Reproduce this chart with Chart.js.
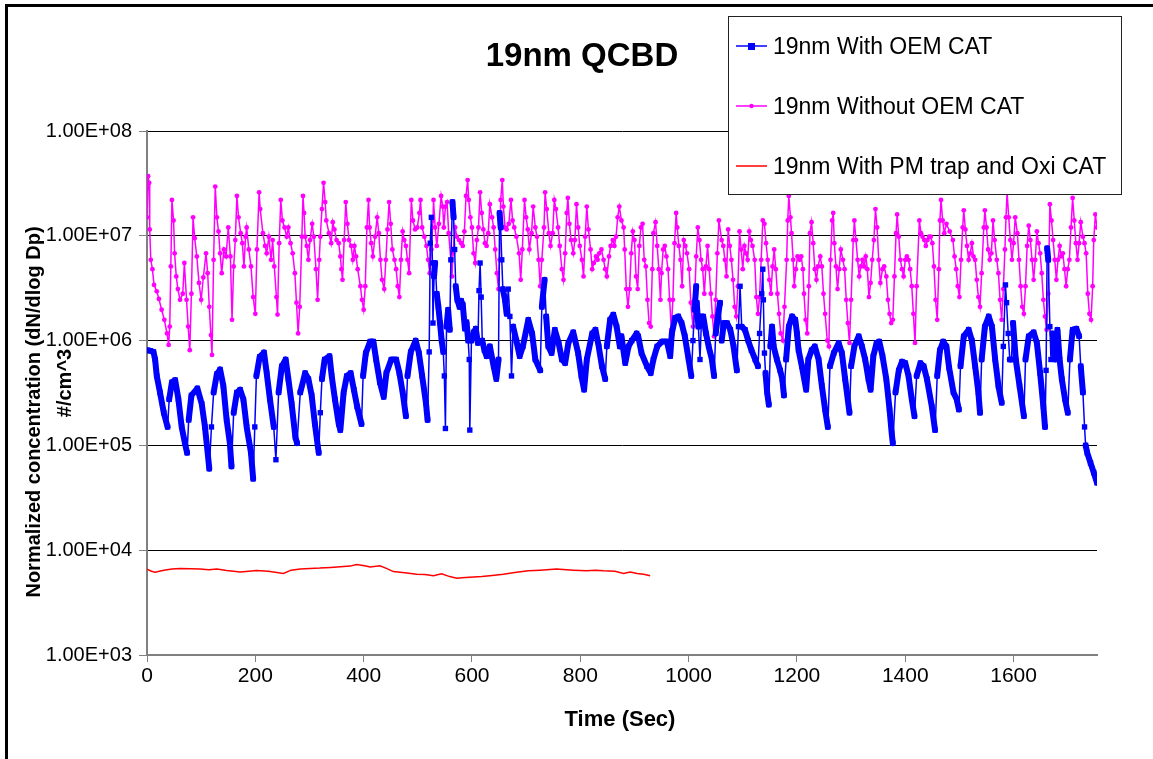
<!DOCTYPE html>
<html>
<head>
<meta charset="utf-8">
<title>19nm QCBD</title>
<script src="https://cdn.jsdelivr.net/npm/chart.js@4/dist/chart.umd.min.js"></script>
<style>
  html, body { margin: 0; padding: 0; background: #fff; overflow: hidden; }
  #chart { display: block; }
</style>
</head>
<body>
<canvas id="chart" width="1153" height="759"></canvas>
<script>
const FONT = "'Liberation Sans', Arial, sans-serif";

const chartTitle = '19nm QCBD';
const xTitle = 'Time (Sec)';
const yTitle = ['Normalized concentration (dN/dlog Dp)', '#/cm^3'];
const seriesNames = ['19nm With OEM CAT', '19nm Without OEM CAT', '19nm With PM trap and Oxi CAT'];

const xTickValues = [0, 200, 400, 600, 800, 1000, 1200, 1400, 1600];
const xTickLabels = ['0', '200', '400', '600', '800', '1000', '1200', '1400', '1600'];
const yTickValues = [1e3, 1e4, 1e5, 1e6, 1e7, 1e8];
const yTickLabels = ['1.00E+03', '1.00E+04', '1.00E+05', '1.00E+06', '1.00E+07', '1.00E+08'];

// 19nm with OEM catalyst
const blueTime = [
  0, 6, 12, 15, 18, 24, 31, 38, 41, 46,
  52, 58, 64, 70, 74, 77, 82, 93, 101, 107,
  112, 115, 119, 123, 129, 135, 141, 147, 153, 156,
  160, 166, 172, 178, 184, 192, 196, 199, 202, 208,
  216, 221, 227, 234, 238, 243, 249, 256, 261, 267,
  274, 277, 283, 292, 298, 304, 310, 317, 320, 323,
  328, 337, 341, 347, 354, 357, 363, 369, 376, 382,
  388, 396, 399, 404, 412, 418, 423, 430, 437, 442,
  451, 460, 466, 472, 478, 481, 487, 496, 502, 508,
  515, 518, 521, 523, 525, 527, 528, 530, 532, 535,
  538, 541, 544, 547, 549, 551, 553, 556, 559, 561,
  564, 566, 568, 570, 573, 577, 580, 583, 587, 590,
  593, 595, 596, 599, 603, 607, 611, 613, 615, 617,
  619, 623, 627, 633, 640, 645, 649, 651, 653, 655,
  657, 661, 664, 667, 670, 673, 676, 682, 688, 694,
  704, 711, 717, 726, 729, 734, 737, 741, 747, 753,
  760, 766, 772, 778, 787, 796, 802, 807, 812, 822,
  828, 834, 840, 846, 849, 855, 861, 867, 873, 876,
  883, 889, 895, 904, 907, 913, 923, 930, 935, 942,
  951, 960, 966, 969, 975, 981, 987, 993, 1000, 1005,
  1008, 1011, 1014, 1015, 1018, 1021, 1024, 1027, 1032, 1037,
  1043, 1047, 1050, 1054, 1058, 1061, 1065, 1071, 1077, 1083,
  1089, 1092, 1095, 1098, 1104, 1110, 1116, 1123, 1128, 1131,
  1135, 1137, 1138, 1140, 1142, 1145, 1148, 1151, 1154, 1157,
  1163, 1169, 1173, 1176, 1180, 1185, 1191, 1197, 1200, 1203,
  1209, 1217, 1221, 1227, 1233, 1240, 1246, 1252, 1257, 1261,
  1268, 1277, 1283, 1289, 1297, 1300, 1306, 1314, 1320, 1326,
  1332, 1336, 1341, 1347, 1352, 1358, 1365, 1371, 1375, 1377,
  1382, 1388, 1394, 1400, 1406, 1412, 1417, 1421, 1428, 1434,
  1440, 1449, 1455, 1459, 1464, 1470, 1476, 1481, 1489, 1495,
  1499, 1502, 1508, 1517, 1523, 1529, 1535, 1538, 1541, 1547,
  1554, 1560, 1566, 1572, 1578, 1581, 1585, 1587, 1590, 1593,
  1596, 1599, 1604, 1611, 1619, 1622, 1628, 1637, 1643, 1649,
  1655, 1658, 1660, 1662, 1664, 1667, 1669, 1672, 1677, 1681,
  1685, 1689, 1695, 1700, 1704, 1709, 1716, 1721, 1724, 1728,
  1731, 1733, 1736, 1742, 1748, 1754
];
const blueConc = [
  8.1e5, 8.0e5, 7.8e5, 6.6e5, 4.6e5, 3.2e5, 2.05e5, 1.5e5, 2.75e5, 4.0e5,
  4.2e5, 2.75e5, 1.5e5, 1.05e5, 8.5e4, 1.75e5, 3.0e5, 3.5e5, 2.5e5, 1.5e5,
  8.5e4, 6.0e4, 1.5e5, 3.2e5, 4.8e5, 5.3e5, 3.7e5, 1.75e5, 1.05e5, 6.3e4,
  2.05e5, 3.2e5, 3.4e5, 2.75e5, 1.5e5, 8.5e4, 4.8e4, 1.5e5, 4.6e5, 7.0e5,
  7.7e5, 4.9e5, 2.75e5, 1.5e5, 7.3e4, 3.2e5, 5.7e5, 6.6e5, 4.3e5, 2.5e5,
  1.2e5, 1.05e5, 3.2e5, 4.9e5, 4.3e5, 3.0e5, 1.6e5, 8.5e4, 2.05e5, 4.3e5,
  6.6e5, 7.1e5, 4.6e5, 2.75e5, 1.6e5, 1.4e5, 3.2e5, 4.6e5, 4.9e5, 3.4e5,
  2.35e5, 1.6e5, 4.6e5, 7.6e5, 9.8e5, 9.8e5, 6.6e5, 4.0e5, 2.9e5, 4.9e5,
  6.6e5, 6.6e5, 4.9e5, 3.2e5, 1.9e5, 4.6e5, 7.8e5, 1.0e6, 7.6e5, 4.6e5,
  2.55e5, 1.75e5, 7.8e5, 8.5e6, 1.5e7, 5.5e6, 1.47e6, 4.1e6, 5.5e6, 2.8e6,
  2.1e6, 1.47e6, 1.0e6, 7.8e5, 4.6e5, 1.45e5, 1.36e6, 1.97e6, 1.27e6, 5.9e6,
  2.1e7, 1.5e7, 7.4e6, 3.3e6, 2.45e6, 2.1e6, 2.4e6, 2.2e6, 1.3e6, 1.5e6,
  1.0e6, 6.6e5, 1.4e5, 1.0e6, 1.2e6, 1.3e6, 9.5e5, 3.0e6, 5.5e6, 2.6e6,
  1.0e6, 8.1e5, 7.1e5, 8.8e5, 5.7e5, 4.3e5, 6.6e5, 1.65e7, 1.2e7, 5.9e6,
  3.1e6, 2.45e6, 1.8e6, 3.1e6, 1.7e6, 4.6e5, 1.36e6, 1.0e6, 7.1e5, 8.8e5,
  1.58e6, 1.17e6, 6.6e5, 5.2e5, 2.1e6, 3.8e6, 1.7e6, 8.8e5, 7.6e5, 1.27e6,
  9.5e5, 6.6e5, 6.1e5, 9.5e5, 1.2e6, 7.6e5, 4.6e5, 3.4e5, 6.6e5, 1.17e6,
  1.27e6, 8.8e5, 5.7e5, 4.3e5, 8.8e5, 1.58e6, 1.77e6, 1.36e6, 8.8e5, 1.1e6,
  6.1e5, 8.8e5, 1.0e6, 1.17e6, 1.1e6, 7.6e5, 5.7e5, 4.9e5, 6.6e5, 8.8e5,
  9.8e5, 9.8e5, 7.1e5, 1.17e6, 1.65e6, 1.7e6, 1.47e6, 1.1e6, 6.6e5, 4.6e5,
  1.0e6, 1.97e6, 3.3e6, 2.3e6, 1.36e6, 6.6e5, 1.7e6, 1.7e6, 1.17e6, 8.8e5,
  6.6e5, 4.6e5, 1.17e6, 1.7e6, 2.3e6, 1.0e6, 1.47e6, 1.47e6, 1.27e6, 8.8e5,
  5.2e5, 1.36e6, 3.3e6, 1.36e6, 1.27e6, 1.0e6, 8.1e5, 6.6e5, 5.7e5, 1.17e6,
  2.8e6, 4.8e6, 2.45e6, 7.6e5, 4.9e5, 3.2e5, 2.45e5, 8.8e5, 1.36e6, 8.8e5,
  6.6e5, 5.2e5, 4.3e5, 3.0e5, 6.6e5, 1.36e6, 1.7e6, 1.58e6, 1.17e6, 8.1e5,
  5.7e5, 3.4e5, 6.6e5, 8.1e5, 8.8e5, 6.6e5, 3.7e5, 2.2e5, 1.5e5, 5.7e5,
  7.6e5, 9.5e5, 7.6e5, 4.3e5, 2.05e5, 5.7e5, 8.8e5, 1.1e6, 8.8e5, 6.6e5,
  4.3e5, 3.4e5, 7.1e5, 9.5e5, 9.8e5, 7.1e5, 4.3e5, 2.2e5, 1.3e5, 1.05e5,
  3.2e5, 5.2e5, 6.3e5, 6.1e5, 4.6e5, 2.75e5, 1.9e5, 4.6e5, 6.1e5, 5.7e5,
  4.3e5, 2.35e5, 1.4e5, 4.6e5, 8.1e5, 9.8e5, 8.8e5, 5.5e5, 3.2e5, 2.75e5,
  2.2e5, 5.7e5, 1.1e6, 1.27e6, 1.0e6, 5.7e5, 3.2e5, 2.05e5, 6.6e5, 1.36e6,
  1.7e6, 1.36e6, 6.6e5, 3.7e5, 2.55e5, 8.8e5, 3.4e6, 2.3e6, 1.17e6, 6.6e5,
  6.6e5, 1.47e6, 6.6e5, 3.7e5, 1.9e5, 6.6e5, 1.1e6, 1.2e6, 9.5e5, 4.9e5,
  2.35e5, 1.5e5, 5.2e5, 7.6e6, 5.9e6, 1.36e6, 6.6e5, 1.17e6, 6.6e5, 1.27e6,
  6.6e5, 4.3e5, 2.75e5, 2.05e5, 6.6e5, 1.27e6, 1.3e6, 1.1e6, 5.7e5, 3.2e5,
  1.5e5, 1.0e5, 8.5e4, 6.8e4, 5.5e4, 4.4e4
];

// 19nm without OEM catalyst
const magentaTime = [
  0, 2, 4, 5, 7, 10, 13, 18, 22, 27,
  32, 37, 40, 42, 44, 46, 49, 51, 54, 57,
  61, 66, 69, 73, 76, 79, 82, 85, 88, 92,
  96, 100, 104, 109, 112, 115, 118, 120, 123, 126,
  129, 132, 135, 138, 142, 146, 150, 154, 157, 160,
  163, 166, 169, 173, 176, 179, 182, 184, 188, 192,
  196, 200, 203, 207, 209, 214, 218, 221, 225, 229,
  232, 235, 239, 241, 244, 247, 250, 254, 258, 261,
  265, 269, 273, 276, 279, 282, 286, 288, 290, 292,
  295, 298, 301, 305, 308, 312, 315, 318, 320, 323,
  326, 329, 331, 336, 340, 343, 346, 350, 354, 357,
  359, 361, 364, 367, 370, 373, 377, 380, 383, 386,
  389, 394, 397, 400, 403, 406, 409, 411, 414, 417,
  421, 425, 428, 431, 434, 438, 441, 444, 447, 450,
  453, 457, 460, 463, 466, 469, 472, 475, 478, 481,
  484, 488, 491, 495, 499, 503, 505, 508, 512, 516,
  519, 522, 525, 528, 529, 532, 535, 539, 543, 546,
  548, 551, 554, 557, 561, 563, 565, 569, 572, 576,
  580, 583, 586, 589, 592, 594, 597, 600, 603, 606,
  609, 612, 615, 618, 621, 624, 627, 630, 633, 637,
  640, 643, 646, 649, 651, 653, 656, 658, 661, 664,
  668, 672, 675, 678, 682, 687, 690, 693, 697, 700,
  703, 706, 710, 713, 717, 720, 723, 726, 729, 733,
  735, 738, 742, 745, 749, 752, 755, 759, 762, 766,
  769, 772, 775, 777, 780, 783, 787, 790, 793, 796,
  799, 803, 806, 809, 812, 815, 819, 822, 825, 829,
  832, 835, 839, 843, 846, 849, 853, 856, 860, 863,
  866, 869, 872, 876, 880, 882, 885, 888, 891, 894,
  897, 900, 903, 906, 909, 912, 915, 918, 921, 924,
  927, 930, 933, 935, 939, 942, 945, 948, 950, 953,
  956, 959, 962, 965, 968, 971, 974, 977, 979, 982,
  985, 988, 991, 994, 997, 1001, 1004, 1008, 1011, 1014,
  1017, 1020, 1023, 1026, 1029, 1032, 1035, 1038, 1041, 1044,
  1047, 1050, 1053, 1056, 1061, 1064, 1067, 1070, 1073, 1076,
  1079, 1082, 1085, 1088, 1091, 1094, 1097, 1100, 1103, 1106,
  1109, 1112, 1115, 1118, 1122, 1125, 1128, 1131, 1134, 1137,
  1140, 1143, 1146, 1149, 1152, 1155, 1158, 1161, 1164, 1167,
  1170, 1174, 1177, 1181, 1183, 1185, 1188, 1190, 1193, 1195,
  1198, 1201, 1205, 1208, 1211, 1213, 1216, 1219, 1222, 1224,
  1227, 1230, 1233, 1236, 1239, 1243, 1246, 1249, 1252, 1256,
  1259, 1262, 1265, 1267, 1269, 1272, 1275, 1278, 1281, 1285,
  1288, 1291, 1294, 1297, 1300, 1304, 1306, 1309, 1312, 1315,
  1318, 1321, 1324, 1327, 1330, 1333, 1336, 1339, 1342, 1345,
  1348, 1351, 1354, 1358, 1361, 1365, 1368, 1371, 1374, 1377,
  1380, 1383, 1385, 1388, 1391, 1394, 1397, 1400, 1403, 1406,
  1409, 1412, 1415, 1418, 1421, 1426, 1429, 1432, 1435, 1438,
  1441, 1444, 1447, 1450, 1453, 1456, 1459, 1462, 1464, 1466,
  1469, 1472, 1476, 1482, 1488, 1491, 1494, 1497, 1500, 1503,
  1506, 1508, 1511, 1514, 1517, 1520, 1523, 1526, 1529, 1532,
  1535, 1538, 1541, 1545, 1547, 1550, 1553, 1556, 1559, 1562,
  1565, 1569, 1572, 1575, 1578, 1581, 1584, 1586, 1588, 1591,
  1594, 1597, 1600, 1603, 1607, 1610, 1613, 1616, 1619, 1622,
  1625, 1628, 1631, 1634, 1637, 1640, 1643, 1646, 1649, 1652,
  1655, 1658, 1661, 1664, 1667, 1670, 1673, 1676, 1679, 1682,
  1685, 1688, 1691, 1694, 1697, 1700, 1703, 1706, 1709, 1712,
  1715, 1718, 1721, 1724, 1728, 1731, 1734, 1737, 1740, 1743,
  1746, 1748, 1751, 1754
];
const magentaConc = [
  1.5e7, 3.7e7, 3.2e7, 1.15e7, 5.9e6, 4.8e6, 3.4e6, 2.95e6, 2.5e6, 1.97e6,
  1.58e6, 1.17e6, 9.1e5, 1.36e6, 5.1e6, 2.2e7, 1.4e7, 6.8e6, 4.1e6, 3.1e6,
  2.45e6, 2.8e6, 5.5e6, 2.45e6, 1.36e6, 8.1e5, 2.8e6, 1.5e7, 9.5e6, 6.35e6,
  3.55e6, 2.45e6, 4.0e6, 6.8e6, 4.4e6, 2.1e6, 1.13e6, 7.3e5, 5.9e6, 2.95e7,
  1.5e7, 1.1e7, 6.8e6, 4.4e6, 7.4e6, 6.35e6, 1.2e7, 6.35e6, 1.58e6, 5.1e6,
  9.1e6, 2.4e7, 1.5e7, 1.06e7, 8.5e6, 5.1e6, 9.8e6, 1.2e7, 7.4e6, 5.1e6,
  2.6e6, 1.8e6, 7.4e6, 2.6e7, 1.8e7, 1.06e7, 8e6, 6.8e6, 9.8e6, 5.9e6,
  9.1e6, 5.1e6, 2.6e6, 1.77e6, 8.5e6, 2.2e7, 1.4e7, 1.2e7, 9.8e6, 1.2e7,
  8.5e6, 6.8e6, 4.4e6, 2.3e6, 1.17e6, 2.1e6, 9.8e6, 2.4e7, 1.65e7, 9.8e6,
  8e6, 5.9e6, 9.1e6, 1.3e7, 9.8e6, 4.8e6, 2.45e6, 5.9e6, 9.8e6, 1.8e7,
  3.2e7, 2.1e7, 1.4e7, 1.06e7, 8.5e6, 1.35e7, 1.15e7, 9.1e6, 8.5e6, 6.35e6,
  4.8e6, 3.8e6, 9.1e6, 2.1e7, 1.3e7, 9.1e6, 8e6, 5.9e6, 8e6, 6.35e6,
  4.8e6, 3.3e6, 2.45e6, 1.97e6, 3.3e6, 1.2e7, 2.2e7, 1.2e7, 8.5e6, 6.35e6,
  9.8e6, 1.5e7, 1.06e7, 5.9e6, 3.8e6, 3.1e6, 5.9e6, 1.15e7, 2.1e7, 1.3e7,
  7.4e6, 5.9e6, 4.8e6, 3.3e6, 2.6e6, 5.9e6, 1.1e7, 9.1e6, 8e6, 5.9e6,
  4.4e6, 2.2e7, 1.4e7, 1.15e7, 1.2e7, 1.65e7, 2.2e7, 1.2e7, 9.8e6, 8e6,
  5.9e6, 4.4e6, 7.4e6, 1.4e7, 2.2e7, 1.2e7, 8e6, 1.3e7, 2.4e7, 1.9e7,
  1.2e7, 1.9e7, 2.1e7, 1.06e7, 5.9e6, 4.1e6, 6.8e6, 1.2e7, 9.8e6, 9.1e6,
  8.5e6, 8e6, 1.1e7, 2.4e7, 3.4e7, 2.2e7, 1.5e7, 1.2e7, 6.8e6, 5.5e6,
  9.1e6, 1.2e7, 2.6e7, 1.65e7, 1.15e7, 8.5e6, 8e6, 1.06e7, 2e7, 1.5e7,
  1.2e7, 7.4e6, 4.4e6, 3.1e6, 5.9e6, 2.2e7, 3.4e7, 1.9e7, 1.2e7, 1.15e7,
  1.3e7, 2.2e7, 1.4e7, 1.2e7, 9.8e6, 6.8e6, 3.8e6, 7.4e6, 2.2e7, 1.5e7,
  1.15e7, 7.4e6, 1.06e7, 1.9e7, 1.2e7, 9.8e6, 5.9e6, 3.3e6, 5.9e6, 1.2e7,
  2.6e7, 1.8e7, 1.06e7, 8e6, 1.06e7, 2.2e7, 1.8e7, 1.2e7, 8e6, 4.8e6,
  3.8e6, 6.8e6, 1.65e7, 2.3e7, 1.3e7, 9.1e6, 6.8e6, 9.1e6, 2e7, 1.2e7,
  8e6, 5.9e6, 4.1e6, 9.8e6, 1.9e7, 1.15e7, 7.4e6, 4.8e6, 5.5e6, 6.35e6,
  5.9e6, 6.8e6, 7.4e6, 5.9e6, 4.8e6, 4.1e6, 6.35e6, 8e6, 9.1e6, 8e6,
  9.8e6, 1.5e7, 1.9e7, 1.4e7, 1.2e7, 7.4e6, 3.1e6, 2.1e6, 3.1e6, 6.8e6,
  1.1e7, 9.1e6, 4.1e6, 3.1e6, 8e6, 1.2e7, 1.3e7, 5.9e6, 5.1e6, 2.45e6,
  1.47e6, 1.36e6, 4.8e6, 1.06e7, 1.35e7, 8e6, 4.8e6, 2.45e6, 4.4e6, 7.4e6,
  8e6, 6.35e6, 4.8e6, 2.45e6, 1.27e6, 2.45e6, 8.5e6, 1.65e7, 1.2e7, 8e6,
  5.9e6, 3.3e6, 9.1e6, 8e6, 6.8e6, 4.8e6, 2.3e6, 1.36e6, 2.45e6, 6.35e6,
  1.2e7, 9.1e6, 5.9e6, 4.8e6, 2.8e6, 5.1e6, 8e6, 4.8e6, 2.8e6, 1.7e6,
  1.1e6, 2.45e6, 6.8e6, 1.4e7, 9.1e6, 8e6, 5.9e6, 4.1e6, 1.15e7, 8e6,
  5.9e6, 3.8e6, 2.1e6, 1.7e6, 3.3e6, 1.1e7, 7.4e6, 4.8e6, 8e6, 6.8e6,
  5.9e6, 1.1e7, 9.1e6, 8e6, 5.9e6, 2.6e6, 1.8e6, 2.6e6, 5.9e6, 1.4e7,
  1.3e7, 8.5e6, 5.9e6, 3.8e6, 2.8e6, 5.1e6, 7.4e6, 4.8e6, 2.8e6, 1.8e6,
  1.17e6, 1.0e6, 2.1e6, 5.9e6, 1.4e7, 2.4e7, 1.5e7, 1.06e7, 5.9e6, 3.3e6,
  4.8e6, 6.35e6, 5.9e6, 6.35e6, 4.8e6, 2.8e6, 1.58e6, 1.17e6, 3.3e6, 1.06e7,
  1.35e7, 8.5e6, 4.8e6, 3.8e6, 5.1e6, 6.35e6, 5.1e6, 2.8e6, 1.8e6, 1.0e6,
  8.8e5, 5.9e6, 1.4e7, 1.65e7, 8.5e6, 5.1e6, 3.1e6, 4.8e6, 7.4e6, 5.9e6,
  4.8e6, 2.45e6, 1.47e6, 9.5e5, 2.45e6, 9.1e6, 1.4e7, 9.1e6, 5.9e6, 4.1e6,
  5.1e6, 5.9e6, 5.1e6, 6.35e6, 4.8e6, 2.6e6, 3.55e6, 5.9e6, 9.1e6, 1.8e7,
  1.2e7, 5.9e6, 3.55e6, 4.8e6, 5.1e6, 4.1e6, 2.45e6, 1.8e6, 1.47e6, 1.58e6,
  4.1e6, 1.06e7, 1.6e7, 9.8e6, 5.9e6, 4.8e6, 4.1e6, 5.9e6, 6.35e6, 5.9e6,
  4.8e6, 3.3e6, 1.8e6, 9.5e5, 3.3e6, 1.4e7, 1.06e7, 9.8e6, 9.1e6, 8e6,
  9.1e6, 9.8e6, 9.8e6, 8.5e6, 5.1e6, 2.45e6, 1.58e6, 4.8e6, 1.4e7, 2.2e7,
  1.4e7, 1.06e7, 1.3e7, 1.1e7, 9.1e6, 6.35e6, 4.8e6, 3.3e6, 2.6e6, 5.9e6,
  1.2e7, 1.75e7, 1.15e7, 8e6, 5.9e6, 6.8e6, 8.5e6, 6.35e6, 5.9e6, 3.8e6,
  2.6e6, 2.1e6, 4.4e6, 1.2e7, 1.75e7, 1.2e7, 7.4e6, 5.9e6, 6.8e6, 1.4e7,
  9.1e6, 5.9e6, 4.4e6, 2.45e6, 1.58e6, 3.1e6, 7.4e6, 1.5e7, 2.6e7, 1.5e7,
  9.1e6, 5.9e6, 8.5e6, 1.5e7, 1.06e7, 5.9e6, 3.3e6, 2.1e6, 1.8e6, 3.3e6,
  8e6, 1.25e7, 9.1e6, 5.9e6, 3.8e6, 5.9e6, 1.1e7, 8.5e6, 6.8e6, 4.4e6,
  2.45e6, 1.7e6, 1.27e6, 2.8e6, 2e7, 1.4e7, 9.1e6, 5.9e6, 3.8e6, 5.9e6,
  8e6, 6.35e6, 6.8e6, 4.8e6, 3.3e6, 4.8e6, 5.9e6, 1.2e7, 2.3e7, 1.4e7,
  8.5e6, 5.9e6, 8.5e6, 1.35e7, 9.8e6, 8.5e6, 6.8e6, 2.8e6, 1.8e6, 1.58e6,
  3.3e6, 9.1e6, 1.6e7, 1.2e7
];

// 19nm with PM trap and oxidation catalyst
const redTime = [
  0, 8, 15, 31, 46, 61, 81, 98, 114, 129,
  147, 172, 188, 202, 224, 252, 266, 283, 301, 319,
  339, 357, 375, 387, 402, 412, 430, 442, 455, 476,
  498, 513, 529, 544, 559, 572, 588, 603, 618, 633,
  658, 682, 704, 726, 756, 787, 812, 828, 843, 864,
  880, 892, 905, 917, 929
];
const redConc = [
  6.6e3, 6.3e3, 6.15e3, 6.45e3, 6.6e3, 6.7e3, 6.65e3, 6.6e3, 6.5e3, 6.6e3,
  6.4e3, 6.2e3, 6.3e3, 6.4e3, 6.3e3, 6.0e3, 6.45e3, 6.6e3, 6.7e3, 6.75e3,
  6.85e3, 6.95e3, 7.05e3, 7.3e3, 7.1e3, 6.9e3, 7.1e3, 6.7e3, 6.25e3, 6.1e3,
  5.9e3, 5.85e3, 5.7e3, 5.95e3, 5.6e3, 5.4e3, 5.5e3, 5.55e3, 5.6e3, 5.7e3,
  5.9e3, 6.15e3, 6.35e3, 6.45e3, 6.6e3, 6.45e3, 6.35e3, 6.45e3, 6.35e3, 6.3e3,
  6.0e3, 6.2e3, 6.0e3, 5.9e3, 5.7e3
];

const toPoints = (times, values) => times.map((t, i) => ({ x: t, y: values[i] }));

const seriesColors = ['#0000ff', '#ff00ff', '#ff0000'];

// the 1 Hz logger leaves a solid band of markers where the signal moves slowly,
// so slow stretches of the OEM trace get a heavy stroke and fast jumps a thin one
const bandWidth = (ctx) => {
  const dx = Math.abs(ctx.p1.x - ctx.p0.x) || 1;
  const dy = Math.abs(ctx.p1.y - ctx.p0.y);
  return dy / dx > 15 ? 1.5 : 6;
};

// frame, title, axis titles and the boxed legend
const chartDecor = {
  id: 'chartDecor',
  afterDraw(chart) {
    const ctx = chart.ctx;
    ctx.save();

    ctx.strokeStyle = '#000';
    ctx.lineWidth = 3;
    ctx.strokeRect(6.5, 5.5, 2000, 2000);

    ctx.fillStyle = '#000';
    ctx.textBaseline = 'alphabetic';
    ctx.textAlign = 'center';
    ctx.font = 'bold 33px ' + FONT;
    ctx.fillText(chartTitle, 582, 66);

    ctx.font = 'bold 22px ' + FONT;
    ctx.fillText(xTitle, 620, 726);

    ctx.font = 'bold 20px ' + FONT;
    ctx.save();
    ctx.translate(40, 412);
    ctx.rotate(-Math.PI / 2);
    ctx.fillText(yTitle[0], 0, 0);
    ctx.restore();
    ctx.save();
    ctx.translate(71, 383);
    ctx.rotate(-Math.PI / 2);
    ctx.fillText(yTitle[1], 0, 0);
    ctx.restore();

    // legend
    const box = { x: 728, y: 16, w: 393, h: 178 };
    ctx.fillStyle = '#fff';
    ctx.fillRect(box.x, box.y, box.w, box.h);
    ctx.strokeStyle = '#222';
    ctx.lineWidth = 1;
    ctx.strokeRect(box.x + 0.5, box.y + 0.5, box.w, box.h);

    const rowY = [46, 106, 166];
    ctx.font = '23px ' + FONT;
    ctx.textAlign = 'left';
    seriesNames.forEach((name, i) => {
      const y = rowY[i];
      ctx.strokeStyle = seriesColors[i];
      ctx.lineWidth = 1.5;
      ctx.beginPath();
      ctx.moveTo(736, y);
      ctx.lineTo(767, y);
      ctx.stroke();
      ctx.fillStyle = seriesColors[i];
      if (i === 0) {
        ctx.fillRect(748, y - 3, 7, 7);
      } else if (i === 1) {
        ctx.beginPath();
        ctx.arc(751.5, y, 2.2, 0, Math.PI * 2);
        ctx.fill();
      }
      ctx.fillStyle = '#000';
      ctx.fillText(name, 773, y + 8);
    });

    ctx.restore();
  }
};

new Chart(document.getElementById('chart'), {
  type: 'line',
  data: {
    datasets: [
      {
        label: seriesNames[0],
        data: toPoints(blueTime, blueConc),
        borderColor: seriesColors[0],
        backgroundColor: seriesColors[0],
        borderWidth: 1.5,
        borderJoinStyle: 'round',
        borderCapStyle: 'round',
        segment: { borderWidth: bandWidth },
        pointStyle: 'rect',
        pointRadius: 3.8,
        pointBorderWidth: 0
      },
      {
        label: seriesNames[1],
        data: toPoints(magentaTime, magentaConc),
        borderColor: seriesColors[1],
        backgroundColor: seriesColors[1],
        borderWidth: 1.5,
        pointStyle: 'circle',
        pointRadius: 2.4,
        pointBorderWidth: 0
      },
      {
        label: seriesNames[2],
        data: toPoints(redTime, redConc),
        borderColor: seriesColors[2],
        borderWidth: 1.5,
        pointRadius: 0
      }
    ]
  },
  options: {
    responsive: false,
    animation: false,
    devicePixelRatio: 1,
    layout: { padding: { top: 131, right: 56, bottom: 0, left: 0 } },
    plugins: {
      legend: { display: false },
      title: { display: false },
      tooltip: { enabled: false }
    },
    scales: {
      x: {
        type: 'linear',
        min: 0,
        max: 1754,
        afterBuildTicks: (scale) => { scale.ticks = xTickValues.map(v => ({ value: v })); },
        afterFit: (scale) => { scale.height = 104; scale.paddingLeft = 0; scale.paddingRight = 0; },
        grid: { drawOnChartArea: false, tickLength: 7, tickColor: '#808080', lineWidth: 1 },
        border: { color: '#808080', width: 2 },
        ticks: {
          color: '#000',
          font: { family: FONT, size: 21 },
          padding: 2,
          maxRotation: 0,
          autoSkip: false,
          callback: (value, index) => xTickLabels[index]
        }
      },
      y: {
        type: 'logarithmic',
        min: 1e3,
        max: 1e8,
        afterBuildTicks: (scale) => { scale.ticks = yTickValues.map(v => ({ value: v })); },
        afterFit: (scale) => { scale.width = 147; scale.paddingTop = 0; scale.paddingBottom = 0; },
        grid: {
          color: (c) => (c.tick && c.tick.value === 1e3 ? 'rgba(0,0,0,0)' : '#000'),
          tickColor: '#808080',
          tickLength: 8,
          lineWidth: 1
        },
        border: { color: '#808080', width: 2 },
        ticks: {
          color: '#000',
          font: { family: FONT, size: 20 },
          padding: 7,
          callback: (value, index) => yTickLabels[index]
        }
      }
    }
  },
  plugins: [chartDecor]
});
</script>
</body>
</html>
